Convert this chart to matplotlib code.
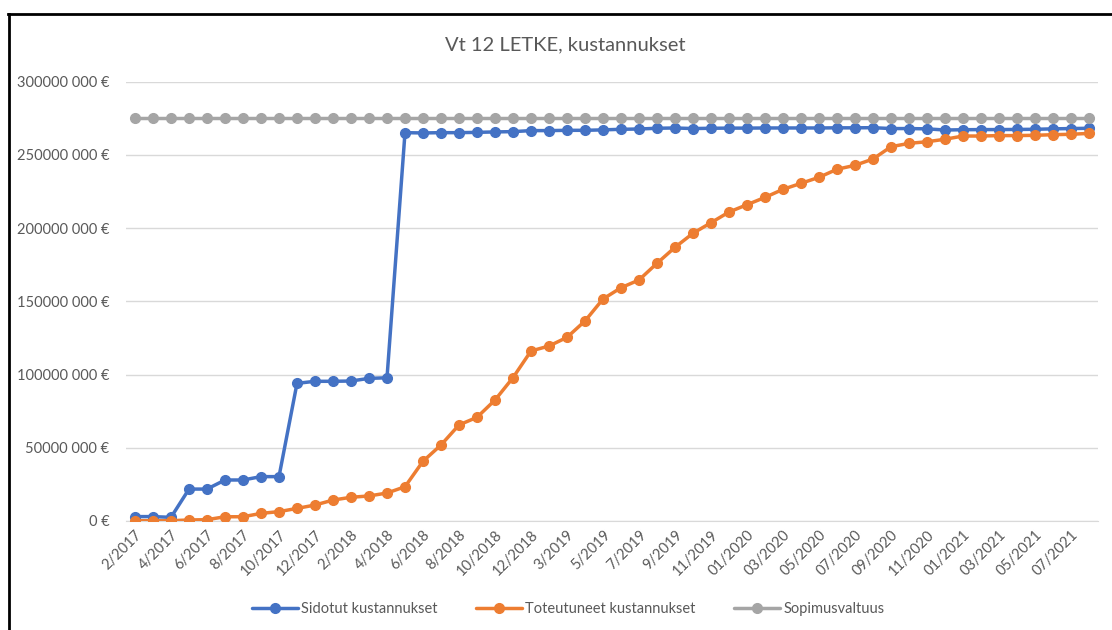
import matplotlib
matplotlib.use("Agg")
from matplotlib import pyplot as plt
from matplotlib.lines import Line2D

plt.rcParams['font.family'] = ['Lato', 'DejaVu Sans']

# category labels (every month; Excel shows every second one)
months = (
    ["2/2017", "3/2017", "4/2017", "5/2017", "6/2017", "7/2017", "8/2017", "9/2017",
     "10/2017", "11/2017", "12/2017", "1/2018", "2/2018", "3/2018", "4/2018", "5/2018",
     "6/2018", "7/2018", "8/2018", "9/2018", "10/2018", "11/2018", "12/2018", "2/2019",
     "3/2019", "4/2019", "5/2019", "6/2019", "7/2019", "8/2019", "9/2019", "10/2019",
     "11/2019", "12/2019", "01/2020", "02/2020", "03/2020", "04/2020", "05/2020",
     "06/2020", "07/2020", "08/2020", "09/2020", "10/2020", "11/2020", "12/2020",
     "01/2021", "02/2021", "03/2021", "04/2021", "05/2021", "06/2021", "07/2021",
     "08/2021"]
)

sidotut = [3.0, 3.0, 2.5, 21.8, 21.8, 28.0, 28.0, 30.3, 30.3, 94.0,
           95.4, 95.4, 95.6, 97.4, 97.8, 265.2, 265.0, 265.2, 265.2, 265.4,
           265.7, 265.9, 266.6, 266.6, 266.8, 266.8, 267.1, 267.5, 267.7, 268.2,
           268.4, 268.0, 268.2, 268.3, 268.3, 268.4, 268.4, 268.4, 268.4, 268.5,
           268.5, 268.6, 268.0, 268.0, 267.8, 267.0, 267.2, 267.3, 267.3, 267.4,
           267.5, 267.8, 268.0, 268.2]

toteutuneet = [0.2, 0.2, 0.2, 0.7, 0.9, 2.9, 2.9, 5.2, 6.4, 8.6,
               10.9, 14.3, 16.2, 17.1, 19.1, 23.4, 40.8, 51.9, 65.6, 70.8,
               82.6, 97.9, 116.1, 119.5, 125.4, 136.6, 151.6, 159.3, 164.6, 176.0,
               186.9, 196.5, 203.7, 211.0, 216.0, 221.0, 226.5, 230.6, 234.7, 240.2,
               242.9, 247.2, 255.6, 257.9, 259.0, 260.7, 262.9, 262.9, 263.2, 263.2,
               263.4, 263.8, 264.1, 264.7]

sopimusvaltuus = [275.0] * len(months)

yticks = [0, 50, 100, 150, 200, 250, 300]
ylabels = ["0 €", "50000 000 €", "100000 000 €", "150000 000 €",
           "200000 000 €", "250000 000 €", "300000 000 €"]

text_color = "#595959"

fig = plt.figure(figsize=(11.12, 6.30), dpi=100)
ax = fig.add_axes([126 / 1112, 1 - 521 / 630, (1098 - 126) / 1112, (521 - 81.7) / 630])

x = list(range(len(months)))
style = dict(linewidth=2.5, marker="o", markersize=7, solid_capstyle="round")
ax.plot(x, sidotut, color="#4472C4", label="Sidotut kustannukset", zorder=3, **style)
ax.plot(x, toteutuneet, color="#ED7D31", label="Toteutuneet kustannukset", zorder=4, **style)
ax.plot(x, sopimusvaltuus, color="#A5A5A5", label="Sopimusvaltuus", zorder=5, **style)

ax.set_xlim(-0.5, len(months) - 0.5)
ax.set_ylim(0, 300)
ax.set_yticks(yticks)
ax.set_yticklabels(ylabels)
ax.set_xticks(x[::2])
ax.set_xticklabels(months[::2], rotation=45, ha="right", rotation_mode="anchor")

ax.grid(axis="y", color="#D9D9D9", linewidth=1.0)
ax.set_axisbelow(True)
for side in ["top", "right", "left"]:
    ax.spines[side].set_visible(False)
ax.spines["bottom"].set_color("#D9D9D9")
ax.tick_params(axis="both", length=0, labelsize=10.5, colors=text_color)
ax.tick_params(axis="y", pad=12)
ax.tick_params(axis="x", pad=5)

fig.text(565 / 1112, 1 - 45 / 630, "Vt 12 LETKE, kustannukset",
         ha="center", va="center", fontsize=14.5, color=text_color)

fig.legend(loc="center", bbox_to_anchor=(568 / 1112, 1 - 609 / 630), ncol=3,
           frameon=False, fontsize=10.5, labelcolor=text_color,
           handlelength=3.2, handletextpad=0.2, columnspacing=2.6)

# black frame edges visible in the reference screenshot
fig.add_artist(Line2D([8 / 1112, 1], [1 - 14 / 630, 1 - 14 / 630],
                      transform=fig.transFigure, color="black", linewidth=2))
fig.add_artist(Line2D([9 / 1112, 9 / 1112], [0, 1 - 14 / 630],
                      transform=fig.transFigure, color="black", linewidth=2))

fig.savefig("out.png", dpi=100)
